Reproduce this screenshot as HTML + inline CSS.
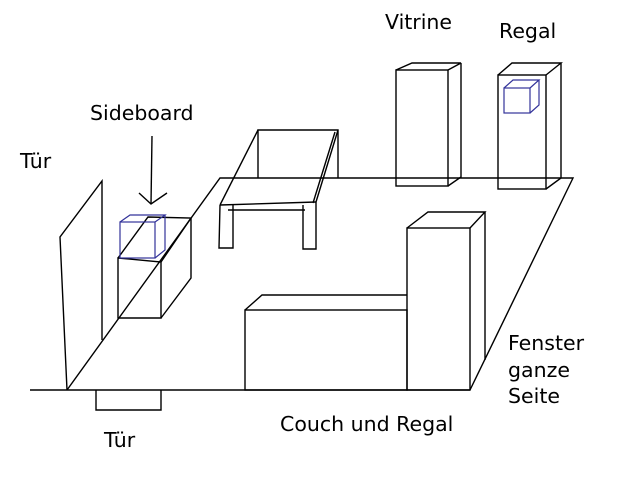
<!DOCTYPE html>
<html><head><meta charset="utf-8"><style>
html,body{margin:0;padding:0;background:#fff;}
svg{display:block;}
text{font-family:"DejaVu Sans","Liberation Sans",sans-serif;font-size:20.5px;fill:#000;}
</style></head><body>
<svg width="640" height="480" viewBox="0 0 640 480" xmlns="http://www.w3.org/2000/svg">
<g fill="none" stroke="#000" stroke-width="1.4">
<line x1="30" y1="390" x2="470" y2="390"/>
<polyline points="67,390 220,178 573,178 470,390"/>
<polyline points="67,390 60,237 102,181 102,340"/>
<polyline points="96,390 96,410 161,410 161,390"/>
<polygon points="118,258 161,262 161,318 118,318"/>
<polyline points="118,258 148,217 191,218 161,262"/>
<polyline points="191,218 191,278 161,318"/>
<line x1="152" y1="136" x2="151" y2="204"/>
<polyline points="139,193 151,204 167,193"/>
<polyline points="258,178 258,130 338,130 338,178"/>
<polyline points="220,205 258,130"/>
<polyline points="316,202 338,130"/>
<polyline points="313,203 335,132"/>
<line x1="220" y1="205" x2="316" y2="202"/>
<line x1="228" y1="210" x2="305" y2="210"/>
<polyline points="220,205 219,248 233,248 233,205"/>
<polyline points="303,205 303,249 316,249 316,202"/>
<rect x="396" y="70" width="52" height="116"/>
<polyline points="396,70 412,63 461,63 448,70"/>
<polyline points="461,63 461,177 448,186"/>
<rect x="498" y="75" width="48" height="114"/>
<polyline points="498,75 512,63 561,63 546,75"/>
<polyline points="561,63 561,178 546,189"/>
<rect x="245" y="310" width="162" height="80"/>
<polyline points="245,310 262,295 407,295"/>
<rect x="407" y="228" width="63" height="162"/>
<polyline points="407,228 428,212 485,212 470,228"/>
<line x1="485" y1="212" x2="485" y2="360"/>
</g>
<g fill="none" stroke="#33339a" stroke-width="1.2">
<rect x="120" y="222" width="35" height="36"/>
<polyline points="120,222 130,215 165,215 155,222"/>
<polyline points="165,215 165,250 155,258"/>
<rect x="504" y="88" width="26" height="25"/>
<polyline points="504,88 513,80 539,80 530,88"/>
<polyline points="539,80 539,105 530,113"/>
</g>
<text x="385" y="29">Vitrine</text>
<text x="499" y="38">Regal</text>
<text x="90" y="120">Sideboard</text>
<text x="20" y="168">Tür</text>
<text x="104" y="447">Tür</text>
<text x="280" y="431">Couch und Regal</text>
<text x="508" y="350">Fenster</text>
<text x="508" y="377">ganze</text>
<text x="508" y="403">Seite</text>
</svg>
</body></html>
